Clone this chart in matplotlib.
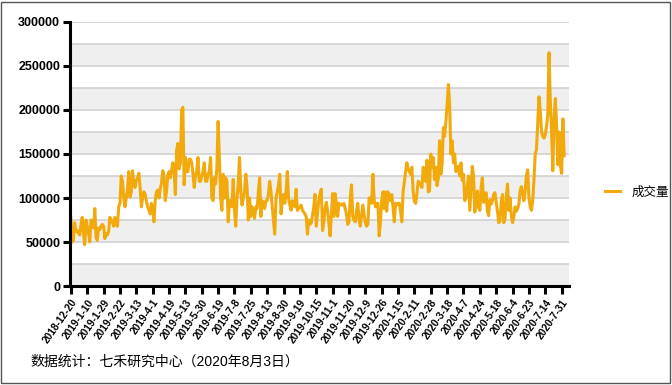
import matplotlib.pyplot as plt
import numpy as np
from matplotlib.patches import Rectangle

plt.rcParams['font.family'] = ['Liberation Sans', 'Noto Sans CJK SC', 'DejaVu Sans']

# 成交量（千手），按交易日顺序读取
volume_k = [
    78, 50, 52, 72, 62, 63, 60, 58, 70, 78, 60, 47, 75,
    68, 60, 50, 75, 70, 66, 88, 55, 52, 66, 64, 68, 70,
    68, 54, 60, 58, 62, 78, 75, 73, 68, 78, 70, 68, 90,
    94, 125, 119, 100, 90, 100, 110, 130, 101, 107, 131, 116, 112,
    120, 123, 128, 112, 90, 100, 107, 104, 97, 90, 86, 82, 94,
    86, 73, 97, 107, 109, 100, 110, 117, 131, 126, 97, 107, 126,
    130, 123, 131, 140, 133, 104, 154, 162, 133, 140, 200, 203, 115,
    146, 130,
    130, 144, 144, 140, 128, 112, 125, 130, 146, 119, 119,
    125, 130, 140, 119, 119, 127, 130, 146, 100, 97, 123,
    116, 134, 187, 146, 100, 86, 127, 100, 123, 119,
    73, 97, 97, 90, 121, 86, 68, 100, 116, 146, 107,
    92, 100, 107, 127, 112, 75, 100, 79, 90, 85, 77,
    90, 88, 107, 123, 79, 97, 94, 88, 97, 97, 105,
    119, 107, 90, 75, 59, 100, 107, 115, 127, 82, 97,
    104, 94, 107, 130, 100, 92, 86, 97, 93, 90, 110,
    86, 88, 90, 92, 86, 84, 82, 79, 59, 75,
    70, 72, 80, 90, 104, 68, 82, 97, 105, 110,
    63, 73, 88, 95, 85, 72, 57, 80, 105, 79,
    105, 94, 79, 94, 92, 93, 92, 94, 88,
    82, 70, 73, 100, 115, 79, 75, 73, 85, 94,
    75, 68, 80, 92, 82, 72, 68, 70, 100, 100,
    94, 127, 98, 90, 94, 94, 57, 73, 97, 107,
    88, 107, 85, 107, 100, 97, 104, 90, 73, 94,
    92, 94, 94, 85, 73, 107, 118, 130, 140, 133,
    130, 127, 135, 107, 96, 94, 105, 119, 117, 115,
    112, 135, 122, 119, 143, 107,
    108, 150, 135, 146, 121, 135, 114, 123, 165, 127, 138,
    180, 170, 187, 206, 229, 205, 150, 165, 140, 150, 130,
    133, 136, 125, 140, 120, 127, 97, 100, 112, 125, 86,
    110, 136, 125, 84, 100, 108, 89, 86, 112, 123, 95,
    100, 106, 85, 80, 98, 93, 97, 104, 106, 95, 85,
    72, 74, 95, 104, 72, 76, 100, 116, 86, 100, 80,
    72, 78, 90, 85, 88, 93, 108, 113, 105, 97, 108,
    125, 132, 101, 90, 86, 97, 120, 150, 155, 185, 215,
    200, 176, 170, 168, 172, 182, 195, 265, 210, 175, 131,
    190, 213, 183, 138, 175, 137, 128, 190, 148,
]
volume = np.array(volume_k) * 1000

tick_labels = ['2018-12-20', '2019-1-10', '2019-1-29', '2019-2-22', '2019-3-13',
               '2019-4-1', '2019-4-19', '2019-5-13', '2019-5-30', '2019-6-19',
               '2019-7-8', '2019-7-25', '2019-8-13', '2019-8-30', '2019-9-19',
               '2019-10-15', '2019-11-1', '2019-11-20', '2019-12-9', '2019-12-26',
               '2020-1-15', '2020-2-11', '2020-2-28', '2020-3-18', '2020-4-7',
               '2020-4-24', '2020-5-18', '2020-6-4', '2020-6-23', '2020-7-14',
               '2020-7-31']
tick_step = 13

fig = plt.figure(figsize=(6.72, 3.85), dpi=100)
ax = fig.add_axes([0.104, 0.257, 0.743, 0.686])

# 交替灰色背景带 + 网格线
for lo in range(0, 300000, 50000):
    ax.axhspan(lo, lo + 25000, color='#efefef', lw=0, zorder=0)
for yv in range(25000, 300001, 25000):
    ax.axhline(yv, color='#d2d2d2', lw=1.2, zorder=1)

x = np.arange(len(volume))
ax.plot(x, volume, color='#F2A90C', lw=2.2, label='成交量', zorder=3)

ax.set_xlim(-0.8, 396)
ax.set_ylim(0, 300000)
ax.set_yticks(range(0, 300001, 50000))
ax.set_yticklabels([str(v) for v in range(0, 300001, 50000)],
                   fontsize=9, fontweight='bold')
ax.set_xticks(np.arange(len(tick_labels)) * tick_step)
ax.set_xticklabels(tick_labels, rotation=55, ha='right', rotation_mode='anchor',
                   fontsize=7.3, fontweight='bold')

for s in ['top', 'right']:
    ax.spines[s].set_visible(False)
for s in ['left', 'bottom']:
    ax.spines[s].set_linewidth(2.2)
    ax.spines[s].set_zorder(4)
ax.tick_params(axis='y', length=5, width=2.2, pad=2)
ax.tick_params(axis='x', length=6, width=2.2, pad=2)

ax.legend(loc='center left', bbox_to_anchor=(1.05, 0.355), frameon=False,
          fontsize=9, handlelength=1.2, handletextpad=0.9)

fig.text(0.045, 0.06, '数据统计：七禾研究中心（2020年8月3日）', fontsize=10,
         va='center', ha='left')

fig.patches.append(Rectangle((0.002, 0.004), 0.995, 0.992, transform=fig.transFigure,
                             fill=False, edgecolor='#555555', lw=1.0))

fig.savefig('out.png', dpi=100)
